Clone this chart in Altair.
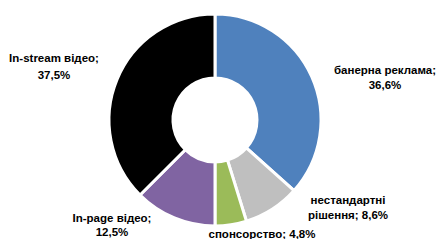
import altair as alt
import pandas as pd

categories = ["банерна реклама", "нестандартні рішення", "спонсорство", "In-page відео", "In-stream відео"]
values = [36.6, 8.6, 4.8, 12.5, 37.5]
labels = ["банерна реклама;\n36,6%", "нестандартні\nрішення;  8,6%", "спонсорство;  4,8%", "In-page відео;\n12,5%", "In-stream відео;\n37,5%"]
colors = ["#4F81BD", "#BFBFBF", "#9BBB59", "#8064A2", "#000000"]

df = pd.DataFrame({"cat": categories, "val": values, "label": labels, "ord": list(range(len(values)))})

cx, cy = 207, 109

pie = alt.Chart(df).mark_arc(outerRadius=106, innerRadius=42, stroke="white", strokeWidth=3).encode(
    theta=alt.Theta("val:Q", stack=True),
    order=alt.Order("ord:Q"),
    color=alt.Color("cat:N", scale=alt.Scale(domain=categories, range=colors), legend=None),
    x=alt.value(cx),
    y=alt.value(cy),
)

# label anchor positions (chart px, first line) for annotations
label_pos = {
    "банерна реклама": (377, 60, 15),
    "нестандартні рішення": (340, 190, 15),
    "спонсорство": (254, 224, 15),
    "In-page відео": (104, 208, 14),
    "In-stream відео": (46, 48, 17),
}

layers = [pie]
for cat, (px, py, lh) in label_pos.items():
    t = alt.Chart(df).transform_filter(alt.datum.cat == cat).mark_text(
        font="Liberation Sans", fontSize=11.5, fontWeight="bold", lineBreak="\n",
        lineHeight=lh, align="center", baseline="middle", color="black"
    ).encode(text="label:N", x=alt.value(px), y=alt.value(py))
    layers.append(t)

chart = alt.layer(*layers).properties(
    width=429, height=231, padding=0,
    autosize=alt.AutoSizeParams(type="fit", contains="padding"),
).configure_view(stroke=None)

chart.save("out.html", embed_options={"renderer": "svg", "actions": False})
